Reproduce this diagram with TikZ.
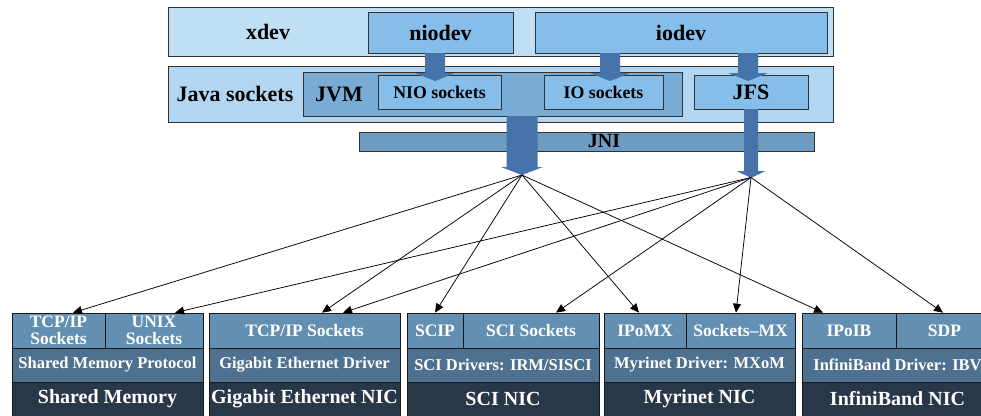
\documentclass[tikz,border=0pt]{standalone}
\usepackage{fontspec}
\setmainfont{Liberation Serif}
\usetikzlibrary{arrows.meta}
\definecolor{xdevfill}{RGB}{192,223,244}
\definecolor{javafill}{RGB}{178,214,241}
\definecolor{devfill}{RGB}{133,190,235}
\definecolor{jvmfill}{RGB}{121,172,212}
\definecolor{jnifill}{RGB}{110,156,192}
\definecolor{blockblue}{RGB}{70,116,170}
\definecolor{topline}{RGB}{50,50,50}
\definecolor{rowone}{RGB}{99,143,178}
\definecolor{rowtwo}{RGB}{77,113,143}
\definecolor{rowthree}{RGB}{40,56,72}
\definecolor{cellline}{RGB}{25,25,25}
\begin{document}
\begin{tikzpicture}[x=1pt,y=-1pt,
  tbox/.style={draw=topline, line width=0.8pt, inner sep=0pt, rectangle},
  bigtxt/.style={font=\bfseries\fontsize{22}{24}\selectfont, inner sep=0pt, text=black},
  midtxt/.style={font=\bfseries\fontsize{17.8}{19}\selectfont, inner sep=0pt, text=black},
  cell/.style={draw=cellline, line width=0.7pt, inner sep=0pt, rectangle, text=white, align=center},
  rowa/.style={cell, fill=rowone, minimum height=35pt, font=\bfseries\fontsize{17.5}{16.5}\selectfont},
  rowb/.style={cell, fill=rowtwo, minimum height=34pt, font=\bfseries\fontsize{16.5}{18}\selectfont},
  rowc/.style={cell, fill=rowthree, minimum height=34pt, font=\bfseries\fontsize{20}{22}\selectfont},
  blockarrow/.style={fill=blockblue, draw=none},
  conn/.style={draw=black, line width=0.75pt, -{Triangle[length=9pt,width=8pt]}}
]
\useasboundingbox (0,0) rectangle (981,415);
\clip (0,0) rectangle (981,415);

% ---------- top layer ----------
\node[tbox, fill=xdevfill, minimum width=665pt, minimum height=49pt] (xdev) at (500.5,31.5) {};
\node[bigtxt] (xdevlbl) at (268,32) {xdev};
\node[tbox, fill=devfill, minimum width=145pt, minimum height=41pt, bigtxt] (niodev) at (440.5,32.5) {niodev};
\node[tbox, fill=devfill, minimum width=292pt, minimum height=41pt, bigtxt] (iodev) at (681,32.5) {iodev};

\node[tbox, fill=javafill, minimum width=665pt, minimum height=56pt] (java) at (500.5,94) {};
\node[bigtxt] (javalbl) at (235,94) {Java sockets};
\node[tbox, fill=jvmfill, minimum width=379pt, minimum height=44pt] (jvm) at (492.5,94) {};
\node[bigtxt] (jvmlbl) at (339,94) {JVM};
\node[tbox, fill=devfill, minimum width=123pt, minimum height=34pt, midtxt] (nio) at (439.5,92) {NIO sockets};
\node[tbox, fill=devfill, minimum width=119pt, minimum height=34pt, midtxt] (io) at (603.5,92) {IO sockets};
\node[tbox, fill=devfill, minimum width=114pt, minimum height=34pt, bigtxt] (jfs) at (751,92) {JFS};

\node[tbox, fill=jnifill, minimum width=455pt, minimum height=19pt] (jni) at (586.5,141.5) {};

% ---------- block arrows ----------
% niodev -> NIO sockets
\fill[blockarrow] (425,53) -- (445,53) -- (445,73) -- (455,73) -- (435,81) -- (415,73) -- (425,73) -- cycle;
% iodev -> IO sockets
\fill[blockarrow] (600,53) -- (620,53) -- (620,73) -- (630,73) -- (610,81) -- (590,73) -- (600,73) -- cycle;
% iodev -> JFS
\fill[blockarrow] (738,53) -- (758,53) -- (758,73) -- (768,73) -- (748,81) -- (728,73) -- (738,73) -- cycle;
% JVM down
\fill[blockarrow] (506.5,116) -- (537.5,116) -- (537.5,167) -- (543,167) -- (522,175) -- (501,167) -- (506.5,167) -- cycle;
% JFS down
\fill[blockarrow] (744,109) -- (758,109) -- (758,171) -- (765.5,171) -- (751,178) -- (736.5,171) -- (744,171) -- cycle;

\node[bigtxt, font=\bfseries\fontsize{20}{22}\selectfont] (jnilbl) at (604,141.5) {JNI};

\coordinate (jvmtip) at (522,175);
\coordinate (jfstip) at (751,177.5);

% ---------- bottom stacks ----------
% Shared memory
\node[rowa, minimum width=93pt] (smtcp) at (58.5,330.5) {TCP/IP\\Sockets};
\node[rowa, minimum width=98pt] (smunix) at (154,330.5) {UNIX\\Sockets};
\node[rowb, minimum width=191pt] (smproto) at (107.5,365) {Shared Memory Protocol};
\node[rowc, minimum width=191pt] (smnic) at (107.5,399) {Shared Memory};
% Gigabit Ethernet
\node[rowa, minimum width=191pt] (getcp) at (304.5,330.5) {TCP/IP Sockets};
\node[rowb, minimum width=191pt] (gedrv) at (304.5,365) {Gigabit Ethernet Driver};
\node[rowc, minimum width=191pt] (genic) at (304.5,399) {Gigabit Ethernet NIC};
% SCI
\node[rowa, minimum width=56pt] (scip) at (435,330.5) {SCIP};
\node[rowa, minimum width=136pt] (scisock) at (531,330.5) {SCI Sockets};
\node[rowb, minimum width=192pt] (scidrv) at (503,365) {SCI Drivers: IRM/SISCI};
\node[rowc, minimum width=192pt] (scinic) at (503,399) {SCI NIC};
% Myrinet
\node[rowa, minimum width=82pt] (ipomx) at (645,330.5) {IPoMX};
\node[rowa, minimum width=109pt] (sockmx) at (740.5,330.5) {Sockets\textendash MX};
\node[rowb, minimum width=191pt] (mxdrv) at (699.5,365) {Myrinet Driver: MXoM};
\node[rowc, minimum width=191pt] (mxnic) at (699.5,399) {Myrinet NIC};
% InfiniBand
\node[rowa, minimum width=94pt] (ipoib) at (849,330.5) {IPoIB};
\node[rowa, minimum width=97pt] (sdp) at (944.5,330.5) {SDP};
\node[rowb, minimum width=191pt] (ibdrv) at (897.5,365) {InfiniBand Driver: IBV};
\node[rowc, minimum width=191pt] (ibnic) at (897.5,399) {InfiniBand NIC};

% ---------- connectors ----------
\draw[conn] (jvmtip) -- ([xshift=14.5pt]smtcp.north);
\draw[conn] (jvmtip) -- ([xshift=17.5pt]getcp.north);
\draw[conn] (jvmtip) -- (scip.north);
\draw[conn] (jvmtip) -- ([xshift=-6pt]ipomx.north);
\draw[conn] (jvmtip) -- ([xshift=-26pt]ipoib.north);

\draw[conn] (jfstip) -- ([xshift=21pt]smunix.north);
\draw[conn] (jfstip) -- ([xshift=38.5pt]getcp.north);
\draw[conn] (jfstip) -- ([xshift=25pt]scisock.north);
\draw[conn] (jfstip) -- ([xshift=-4.5pt]sockmx.north);
\draw[conn] (jfstip) -- ([xshift=-1.5pt]sdp.north);
\end{tikzpicture}
\end{document}
